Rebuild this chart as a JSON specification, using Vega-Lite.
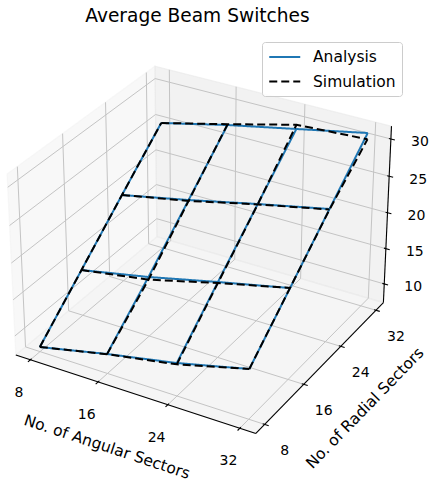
{
  "$schema": "https://vega.github.io/schema/vega-lite/v6.json",
  "width": 429,
  "height": 485,
  "padding": 0,
  "autosize": {"type": "none"},
  "background": "white",
  "title": {"text": "Average Beam Switches", "font": "DejaVu Sans", "fontSize": 18.6, "fontWeight": "normal", "color": "#000000", "anchor": "middle", "frame": "group", "offset": -26, "dx": -17},
  "config": {
    "view": {"stroke": null},
    "font": "DejaVu Sans",
    "legend": {
      "labelFont": "DejaVu Sans", "labelFontSize": 15.5, "labelColor": "#000000", "labelLimit": 0,
      "symbolType": "M-1,0H3", "symbolSize": 240, "symbolStrokeWidth": 2,
      "labelOffset": 27, "rowPadding": 6.5, "padding": 6,
      "strokeColor": "#cccccc", "fillColor": "rgba(255,255,255,0.8)", "cornerRadius": 3
    }
  },
  "datasets": {
    "panes": [
      {"pane": "x", "c": 0}, {"pane": "x", "c": 1}, {"pane": "x", "c": 2}, {"pane": "x", "c": 3}, {"pane": "x", "c": 4},
      {"pane": "y", "c": 0}, {"pane": "y", "c": 1}, {"pane": "y", "c": 2}, {"pane": "y", "c": 3}, {"pane": "y", "c": 4},
      {"pane": "z", "c": 0}, {"pane": "z", "c": 1}, {"pane": "z", "c": 2}, {"pane": "z", "c": 3}, {"pane": "z", "c": 4}
    ],
    "ticks": [
      {"axis": "x", "v": 8}, {"axis": "x", "v": 16}, {"axis": "x", "v": 24}, {"axis": "x", "v": 32},
      {"axis": "y", "v": 8}, {"axis": "y", "v": 16}, {"axis": "y", "v": 24}, {"axis": "y", "v": 32},
      {"axis": "z", "v": 10}, {"axis": "z", "v": 15}, {"axis": "z", "v": 20}, {"axis": "z", "v": 25}, {"axis": "z", "v": 30}
    ],
    "axes": [{"axis": "x"}, {"axis": "y"}, {"axis": "z"}],
    "titles": [
      {"axis": "x", "text": "No. of Angular Sectors"},
      {"axis": "y", "text": "No. of Radial Sectors"}
    ],
    "surface": [
      {"series": "Analysis", "a": 8, "r": 8, "z": 7.97},
      {"series": "Analysis", "a": 16, "r": 8, "z": 10.03},
      {"series": "Analysis", "a": 24, "r": 8, "z": 11.85},
      {"series": "Analysis", "a": 32, "r": 8, "z": 14.13},
      {"series": "Analysis", "a": 8, "r": 16, "z": 13.74},
      {"series": "Analysis", "a": 16, "r": 16, "z": 15.59},
      {"series": "Analysis", "a": 24, "r": 16, "z": 17.74},
      {"series": "Analysis", "a": 32, "r": 16, "z": 19.78},
      {"series": "Analysis", "a": 8, "r": 24, "z": 19.55},
      {"series": "Analysis", "a": 16, "r": 24, "z": 21.47},
      {"series": "Analysis", "a": 24, "r": 24, "z": 23.55},
      {"series": "Analysis", "a": 32, "r": 24, "z": 25.52},
      {"series": "Analysis", "a": 8, "r": 32, "z": 25.25},
      {"series": "Analysis", "a": 16, "r": 32, "z": 27.39},
      {"series": "Analysis", "a": 24, "r": 32, "z": 29.28},
      {"series": "Analysis", "a": 32, "r": 32, "z": 31.18},
      {"series": "Simulation", "a": 8, "r": 8, "z": 7.97},
      {"series": "Simulation", "a": 16, "r": 8, "z": 10.0},
      {"series": "Simulation", "a": 24, "r": 8, "z": 11.67},
      {"series": "Simulation", "a": 32, "r": 8, "z": 14.13},
      {"series": "Simulation", "a": 8, "r": 16, "z": 13.74},
      {"series": "Simulation", "a": 16, "r": 16, "z": 15.22},
      {"series": "Simulation", "a": 24, "r": 16, "z": 17.6},
      {"series": "Simulation", "a": 32, "r": 16, "z": 19.8},
      {"series": "Simulation", "a": 8, "r": 24, "z": 19.55},
      {"series": "Simulation", "a": 16, "r": 24, "z": 21.35},
      {"series": "Simulation", "a": 24, "r": 24, "z": 23.5},
      {"series": "Simulation", "a": 32, "r": 24, "z": 25.45},
      {"series": "Simulation", "a": 8, "r": 32, "z": 25.25},
      {"series": "Simulation", "a": 16, "r": 32, "z": 27.5},
      {"series": "Simulation", "a": 24, "r": 32, "z": 29.85},
      {"series": "Simulation", "a": 32, "r": 32, "z": 30.35}
    ]
  },
  "encoding": {
    "x": {"field": "sx", "type": "quantitative", "axis": null, "scale": {"domain": [-0.087879, 0.097835], "nice": false, "zero": false}},
    "y": {"field": "sy", "type": "quantitative", "axis": null, "scale": {"domain": [-0.105628, 0.104329], "nice": false, "zero": false}}
  },
  "layer": [
    {
      "data": {"name": "panes"},
      "transform": [
        {"calculate": "datum.c % 4", "as": "cc"},
        {"calculate": "(datum.cc == 1 || datum.cc == 2) ? 1 : 0", "as": "s1"},
        {"calculate": "datum.cc >= 2 ? 1 : 0", "as": "s2"},
        {"calculate": "datum.pane == 'x' ? 6.25 : (datum.s1 ? 33.75 : 6.25)", "as": "X"},
        {"calculate": "datum.pane == 'y' ? 33.75 : (datum.pane == 'x' ? (datum.s1 ? 33.75 : 6.25) : (datum.s2 ? 33.75 : 6.25))", "as": "Y"},
        {"calculate": "datum.pane == 'z' ? 7.32 : (datum.s2 ? 31.7 : 7.32)", "as": "Z"},
        {"calculate": "10 - 0.018745*(datum.X-20) + 0.032468*(datum.Y-20) - 0.01831*(datum.Z-19.51)", "as": "d"},
        {"calculate": "(0.03749*(datum.X-20) + 0.021645*(datum.Y-20)) / datum.d", "as": "sx"},
        {"calculate": "(-0.010823*(datum.X-20) + 0.018745*(datum.Y-20) + 0.031713*(datum.Z-19.51)) / datum.d", "as": "sy"}
      ],
      "mark": {"type": "line", "fillOpacity": 0.5, "strokeOpacity": 0.5, "strokeWidth": 1.2},
      "encoding": {
        "order": {"field": "c", "type": "quantitative"},
        "fill": {"field": "pane", "type": "nominal", "scale": {"domain": ["x", "y", "z"], "range": ["#f2f2f2", "#e6e6e6", "#ececec"]}, "legend": null},
        "stroke": {"field": "pane", "type": "nominal", "scale": {"domain": ["x", "y", "z"], "range": ["#f2f2f2", "#e6e6e6", "#ececec"]}, "legend": null}
      }
    },
    {
      "data": {"name": "ticks"},
      "transform": [
        {"calculate": "datum.axis == 'x' ? datum.v : 6.25", "as": "X"},
        {"calculate": "datum.axis == 'y' ? datum.v : 6.25", "as": "Y"},
        {"calculate": "datum.axis == 'z' ? datum.v : 7.32", "as": "Z"},
        {"calculate": "datum.axis == 'x' ? datum.v : (datum.axis == 'y' ? 33.75 : 6.25)", "as": "X2"},
        {"calculate": "datum.axis == 'y' ? datum.v : 33.75", "as": "Y2"},
        {"calculate": "datum.axis == 'z' ? datum.v : 7.32", "as": "Z2"},
        {"calculate": "10 - 0.018745*(datum.X-20) + 0.032468*(datum.Y-20) - 0.01831*(datum.Z-19.51)", "as": "d"},
        {"calculate": "(0.03749*(datum.X-20) + 0.021645*(datum.Y-20)) / datum.d", "as": "sx"},
        {"calculate": "(-0.010823*(datum.X-20) + 0.018745*(datum.Y-20) + 0.031713*(datum.Z-19.51)) / datum.d", "as": "sy"},
        {"calculate": "10 - 0.018745*(datum.X2-20) + 0.032468*(datum.Y2-20) - 0.01831*(datum.Z2-19.51)", "as": "d2"},
        {"calculate": "(0.03749*(datum.X2-20) + 0.021645*(datum.Y2-20)) / datum.d2", "as": "sx2"},
        {"calculate": "(-0.010823*(datum.X2-20) + 0.018745*(datum.Y2-20) + 0.031713*(datum.Z2-19.51)) / datum.d2", "as": "sy2"}
      ],
      "mark": {"type": "rule", "color": "#c4c4c4", "strokeWidth": 1},
      "encoding": {"x2": {"field": "sx2"}, "y2": {"field": "sy2"}}
    },
    {
      "data": {"name": "ticks"},
      "transform": [
        {"calculate": "datum.axis == 'x' ? datum.v : 6.25", "as": "X"},
        {"calculate": "datum.axis == 'y' ? datum.v : 33.75", "as": "Y"},
        {"calculate": "datum.axis == 'z' ? datum.v : 7.32", "as": "Z"},
        {"calculate": "datum.axis == 'x' ? datum.v : (datum.axis == 'z' ? 33.75 : 6.25)", "as": "X2"},
        {"calculate": "datum.axis == 'y' ? datum.v : 33.75", "as": "Y2"},
        {"calculate": "datum.axis == 'z' ? datum.v : 31.7", "as": "Z2"},
        {"calculate": "10 - 0.018745*(datum.X-20) + 0.032468*(datum.Y-20) - 0.01831*(datum.Z-19.51)", "as": "d"},
        {"calculate": "(0.03749*(datum.X-20) + 0.021645*(datum.Y-20)) / datum.d", "as": "sx"},
        {"calculate": "(-0.010823*(datum.X-20) + 0.018745*(datum.Y-20) + 0.031713*(datum.Z-19.51)) / datum.d", "as": "sy"},
        {"calculate": "10 - 0.018745*(datum.X2-20) + 0.032468*(datum.Y2-20) - 0.01831*(datum.Z2-19.51)", "as": "d2"},
        {"calculate": "(0.03749*(datum.X2-20) + 0.021645*(datum.Y2-20)) / datum.d2", "as": "sx2"},
        {"calculate": "(-0.010823*(datum.X2-20) + 0.018745*(datum.Y2-20) + 0.031713*(datum.Z2-19.51)) / datum.d2", "as": "sy2"}
      ],
      "mark": {"type": "rule", "color": "#c4c4c4", "strokeWidth": 1},
      "encoding": {"x2": {"field": "sx2"}, "y2": {"field": "sy2"}}
    },
    {
      "data": {"name": "axes"},
      "transform": [
        {"calculate": "datum.axis == 'x' ? 6.25 : 33.75", "as": "X"},
        {"calculate": "datum.axis == 'z' ? 33.75 : 6.25", "as": "Y"},
        {"calculate": "7.32", "as": "Z"},
        {"calculate": "33.75", "as": "X2"},
        {"calculate": "datum.axis == 'x' ? 6.25 : 33.75", "as": "Y2"},
        {"calculate": "datum.axis == 'z' ? 31.7 : 7.32", "as": "Z2"},
        {"calculate": "10 - 0.018745*(datum.X-20) + 0.032468*(datum.Y-20) - 0.01831*(datum.Z-19.51)", "as": "d"},
        {"calculate": "(0.03749*(datum.X-20) + 0.021645*(datum.Y-20)) / datum.d", "as": "sx"},
        {"calculate": "(-0.010823*(datum.X-20) + 0.018745*(datum.Y-20) + 0.031713*(datum.Z-19.51)) / datum.d", "as": "sy"},
        {"calculate": "10 - 0.018745*(datum.X2-20) + 0.032468*(datum.Y2-20) - 0.01831*(datum.Z2-19.51)", "as": "d2"},
        {"calculate": "(0.03749*(datum.X2-20) + 0.021645*(datum.Y2-20)) / datum.d2", "as": "sx2"},
        {"calculate": "(-0.010823*(datum.X2-20) + 0.018745*(datum.Y2-20) + 0.031713*(datum.Z2-19.51)) / datum.d2", "as": "sy2"}
      ],
      "mark": {"type": "rule", "color": "#000000", "strokeWidth": 1.1},
      "encoding": {"x2": {"field": "sx2"}, "y2": {"field": "sy2"}}
    },
    {
      "data": {"name": "ticks"},
      "transform": [
        {"calculate": "datum.axis == 'x' ? datum.v : 33.53", "as": "X"},
        {"calculate": "datum.axis == 'x' ? 5.81 : (datum.axis == 'y' ? datum.v : 33.75)", "as": "Y"},
        {"calculate": "datum.axis == 'z' ? datum.v : 7.32", "as": "Z"},
        {"calculate": "datum.axis == 'x' ? datum.v : 34.19", "as": "X2"},
        {"calculate": "datum.axis == 'x' ? 6.47 : (datum.axis == 'y' ? datum.v : 33.75)", "as": "Y2"},
        {"calculate": "datum.axis == 'z' ? datum.v : 7.32", "as": "Z2"},
        {"calculate": "10 - 0.018745*(datum.X-20) + 0.032468*(datum.Y-20) - 0.01831*(datum.Z-19.51)", "as": "d"},
        {"calculate": "(0.03749*(datum.X-20) + 0.021645*(datum.Y-20)) / datum.d", "as": "sx"},
        {"calculate": "(-0.010823*(datum.X-20) + 0.018745*(datum.Y-20) + 0.031713*(datum.Z-19.51)) / datum.d", "as": "sy"},
        {"calculate": "10 - 0.018745*(datum.X2-20) + 0.032468*(datum.Y2-20) - 0.01831*(datum.Z2-19.51)", "as": "d2"},
        {"calculate": "(0.03749*(datum.X2-20) + 0.021645*(datum.Y2-20)) / datum.d2", "as": "sx2"},
        {"calculate": "(-0.010823*(datum.X2-20) + 0.018745*(datum.Y2-20) + 0.031713*(datum.Z2-19.51)) / datum.d2", "as": "sy2"}
      ],
      "mark": {"type": "rule", "color": "#000000", "strokeWidth": 1.1},
      "encoding": {"x2": {"field": "sx2"}, "y2": {"field": "sy2"}}
    },
    {
      "data": {"name": "ticks"},
      "transform": [
        {"filter": "datum.axis == 'x'"},
        {"calculate": "datum.v", "as": "X"},
        {"calculate": "6.25", "as": "Y"},
        {"calculate": "7.32", "as": "Z"},
        {"calculate": "10 - 0.018745*(datum.X-20) + 0.032468*(datum.Y-20) - 0.01831*(datum.Z-19.51)", "as": "d"},
        {"calculate": "(0.03749*(datum.X-20) + 0.021645*(datum.Y-20)) / datum.d", "as": "sx"},
        {"calculate": "(-0.010823*(datum.X-20) + 0.018745*(datum.Y-20) + 0.031713*(datum.Z-19.51)) / datum.d", "as": "sy"}
      ],
      "mark": {"type": "text", "font": "DejaVu Sans", "fontSize": 14, "color": "#000000", "align": "center", "baseline": "middle", "dx": -11.3, "dy": 33},
      "encoding": {"text": {"field": "v", "type": "quantitative", "format": "d"}}
    },
    {
      "data": {"name": "ticks"},
      "transform": [
        {"filter": "datum.axis == 'y'"},
        {"calculate": "33.75", "as": "X"},
        {"calculate": "datum.v", "as": "Y"},
        {"calculate": "7.32", "as": "Z"},
        {"calculate": "10 - 0.018745*(datum.X-20) + 0.032468*(datum.Y-20) - 0.01831*(datum.Z-19.51)", "as": "d"},
        {"calculate": "(0.03749*(datum.X-20) + 0.021645*(datum.Y-20)) / datum.d", "as": "sx"},
        {"calculate": "(-0.010823*(datum.X-20) + 0.018745*(datum.Y-20) + 0.031713*(datum.Z-19.51)) / datum.d", "as": "sy"}
      ],
      "mark": {"type": "text", "font": "DejaVu Sans", "fontSize": 14, "color": "#000000", "align": "center", "baseline": "middle", "dx": 20, "dy": 27},
      "encoding": {"text": {"field": "v", "type": "quantitative", "format": "d"}}
    },
    {
      "data": {"name": "ticks"},
      "transform": [
        {"filter": "datum.axis == 'z'"},
        {"calculate": "33.75", "as": "X"},
        {"calculate": "33.75", "as": "Y"},
        {"calculate": "datum.v", "as": "Z"},
        {"calculate": "10 - 0.018745*(datum.X-20) + 0.032468*(datum.Y-20) - 0.01831*(datum.Z-19.51)", "as": "d"},
        {"calculate": "(0.03749*(datum.X-20) + 0.021645*(datum.Y-20)) / datum.d", "as": "sx"},
        {"calculate": "(-0.010823*(datum.X-20) + 0.018745*(datum.Y-20) + 0.031713*(datum.Z-19.51)) / datum.d", "as": "sy"}
      ],
      "mark": {"type": "text", "font": "DejaVu Sans", "fontSize": 14, "color": "#000000", "align": "center", "baseline": "middle", "dx": 29, "dy": 3.5},
      "encoding": {"text": {"field": "v", "type": "quantitative", "format": "d"}}
    },
    {
      "data": {"name": "titles"},
      "transform": [
        {"filter": "datum.axis == 'x'"},
        {"calculate": "20", "as": "X"},
        {"calculate": "6.25", "as": "Y"},
        {"calculate": "7.32", "as": "Z"},
        {"calculate": "10 - 0.018745*(datum.X-20) + 0.032468*(datum.Y-20) - 0.01831*(datum.Z-19.51)", "as": "d"},
        {"calculate": "(0.03749*(datum.X-20) + 0.021645*(datum.Y-20)) / datum.d", "as": "sx"},
        {"calculate": "(-0.010823*(datum.X-20) + 0.018745*(datum.Y-20) + 0.031713*(datum.Z-19.51)) / datum.d", "as": "sy"}
      ],
      "mark": {"type": "text", "font": "DejaVu Sans", "fontSize": 15.5, "color": "#000000", "align": "center", "baseline": "middle", "angle": 18.3, "dx": -7.5, "dy": 59.1},
      "encoding": {"text": {"field": "text", "type": "nominal"}}
    },
    {
      "data": {"name": "titles"},
      "transform": [
        {"filter": "datum.axis == 'y'"},
        {"calculate": "33.75", "as": "X"},
        {"calculate": "20", "as": "Y"},
        {"calculate": "7.32", "as": "Z"},
        {"calculate": "10 - 0.018745*(datum.X-20) + 0.032468*(datum.Y-20) - 0.01831*(datum.Z-19.51)", "as": "d"},
        {"calculate": "(0.03749*(datum.X-20) + 0.021645*(datum.Y-20)) / datum.d", "as": "sx"},
        {"calculate": "(-0.010823*(datum.X-20) + 0.018745*(datum.Y-20) + 0.031713*(datum.Z-19.51)) / datum.d", "as": "sy"}
      ],
      "mark": {"type": "text", "font": "DejaVu Sans", "fontSize": 15.5, "color": "#000000", "align": "center", "baseline": "middle", "angle": -45.9, "dx": -1.3, "dy": 60.4},
      "encoding": {"text": {"field": "text", "type": "nominal"}}
    },
    {
      "data": {"name": "surface"},
      "transform": [
        {"filter": "datum.series == 'Analysis'"},
        {"calculate": "10 - 0.018745*(datum.a-20) + 0.032468*(datum.r-20) - 0.01831*(datum.z-19.51)", "as": "d"},
        {"calculate": "(0.03749*(datum.a-20) + 0.021645*(datum.r-20)) / datum.d", "as": "sx"},
        {"calculate": "(-0.010823*(datum.a-20) + 0.018745*(datum.r-20) + 0.031713*(datum.z-19.51)) / datum.d", "as": "sy"}
      ],
      "mark": {"type": "line", "strokeWidth": 2},
      "encoding": {
        "detail": {"field": "r", "type": "nominal"},
        "order": {"field": "a", "type": "quantitative"},
        "color": {"field": "series", "type": "nominal", "scale": {"domain": ["Analysis", "Simulation"], "range": ["#1f77b4", "#000000"]}, "legend": {"title": null, "orient": "none", "legendX": 262, "legendY": 42, "rowPadding": 6.5, "symbolType": "M-1,0H3", "symbolSize": 240, "labelOffset": 27}},
        "strokeDash": {"field": "series", "type": "nominal", "scale": {"domain": ["Analysis", "Simulation"], "range": [[1, 0], [8, 4]]}, "legend": {"title": null, "orient": "none", "legendX": 262, "legendY": 42, "rowPadding": 6.5, "symbolType": "M-1,0H3", "symbolSize": 240, "labelOffset": 27}}
      }
    },
    {
      "data": {"name": "surface"},
      "transform": [
        {"filter": "datum.series == 'Analysis'"},
        {"calculate": "10 - 0.018745*(datum.a-20) + 0.032468*(datum.r-20) - 0.01831*(datum.z-19.51)", "as": "d"},
        {"calculate": "(0.03749*(datum.a-20) + 0.021645*(datum.r-20)) / datum.d", "as": "sx"},
        {"calculate": "(-0.010823*(datum.a-20) + 0.018745*(datum.r-20) + 0.031713*(datum.z-19.51)) / datum.d", "as": "sy"}
      ],
      "mark": {"type": "line", "strokeWidth": 2},
      "encoding": {
        "detail": {"field": "a", "type": "nominal"},
        "order": {"field": "r", "type": "quantitative"},
        "color": {"field": "series", "type": "nominal"},
        "strokeDash": {"field": "series", "type": "nominal"}
      }
    },
    {
      "data": {"name": "surface"},
      "transform": [
        {"filter": "datum.series == 'Simulation'"},
        {"calculate": "10 - 0.018745*(datum.a-20) + 0.032468*(datum.r-20) - 0.01831*(datum.z-19.51)", "as": "d"},
        {"calculate": "(0.03749*(datum.a-20) + 0.021645*(datum.r-20)) / datum.d", "as": "sx"},
        {"calculate": "(-0.010823*(datum.a-20) + 0.018745*(datum.r-20) + 0.031713*(datum.z-19.51)) / datum.d", "as": "sy"}
      ],
      "mark": {"type": "line", "strokeWidth": 2},
      "encoding": {
        "detail": {"field": "r", "type": "nominal"},
        "order": {"field": "a", "type": "quantitative"},
        "color": {"field": "series", "type": "nominal"},
        "strokeDash": {"field": "series", "type": "nominal"}
      }
    },
    {
      "data": {"name": "surface"},
      "transform": [
        {"filter": "datum.series == 'Simulation'"},
        {"calculate": "10 - 0.018745*(datum.a-20) + 0.032468*(datum.r-20) - 0.01831*(datum.z-19.51)", "as": "d"},
        {"calculate": "(0.03749*(datum.a-20) + 0.021645*(datum.r-20)) / datum.d", "as": "sx"},
        {"calculate": "(-0.010823*(datum.a-20) + 0.018745*(datum.r-20) + 0.031713*(datum.z-19.51)) / datum.d", "as": "sy"}
      ],
      "mark": {"type": "line", "strokeWidth": 2},
      "encoding": {
        "detail": {"field": "a", "type": "nominal"},
        "order": {"field": "r", "type": "quantitative"},
        "color": {"field": "series", "type": "nominal"},
        "strokeDash": {"field": "series", "type": "nominal"}
      }
    }
  ]
}
